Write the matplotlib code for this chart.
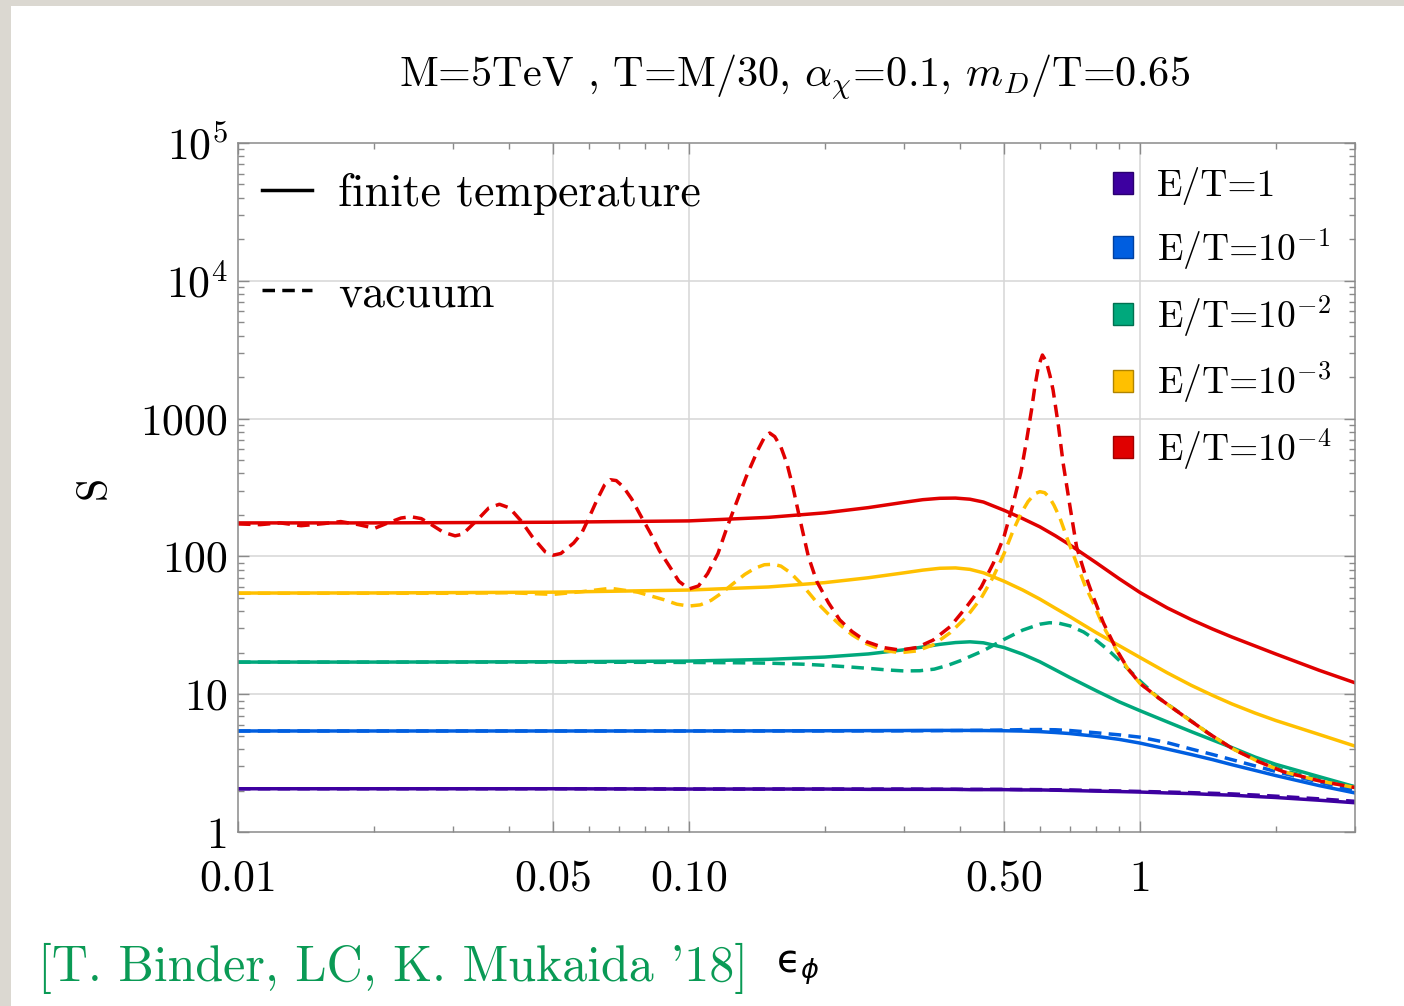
import matplotlib
matplotlib.use("Agg")
import matplotlib.pyplot as plt
from matplotlib.lines import Line2D
from matplotlib.patches import Patch, Rectangle
from matplotlib.ticker import FixedLocator, FixedFormatter, NullFormatter

plt.rcParams["font.family"] = "serif"
plt.rcParams["font.serif"] = ["cmr10"]
plt.rcParams["mathtext.fontset"] = "cm"
plt.rcParams["axes.unicode_minus"] = False
plt.rcParams["axes.formatter.use_mathtext"] = True

# ---- data ----
labels = ["E/T=1", "E/T=$10^{-1}$", "E/T=$10^{-2}$", "E/T=$10^{-3}$", "E/T=$10^{-4}$"]
colors = ["#3d00a0", "#005ee0", "#00a87c", "#ffc000", "#e00000"]
edge_colors = ["#2a0070", "#0040a0", "#007050", "#b08400", "#a00000"]

# finite temperature (solid)
x_ft = [0.01, 0.02, 0.05, 0.1, 0.15, 0.2, 0.25, 0.3, 0.33, 0.36, 0.39, 0.42, 0.45, 0.5,
        0.55, 0.6, 0.65, 0.7, 0.8, 0.9, 1.0, 1.15, 1.3, 1.45, 1.6, 1.8, 2.0, 2.5, 3.0]
ft_e0 = [2.06, 2.06, 2.06, 2.05, 2.05, 2.05, 2.04, 2.04, 2.04, 2.04, 2.04, 2.03, 2.03, 2.03,
         2.02, 2.02, 2.01, 2.0, 1.98, 1.965, 1.95, 1.92, 1.9, 1.87, 1.85, 1.81, 1.78, 1.70, 1.63]
ft_e1 = [5.41, 5.41, 5.41, 5.41, 5.42, 5.43, 5.44, 5.45, 5.46, 5.46, 5.46, 5.46, 5.45, 5.43,
         5.4, 5.35, 5.27, 5.18, 4.95, 4.7, 4.42, 4.0, 3.65, 3.35, 3.08, 2.8, 2.57, 2.17, 1.92]
ft_e2 = [17.1, 17.1, 17.2, 17.4, 17.9, 18.6, 19.6, 21.0, 22.0, 23.0, 23.7, 24.0, 23.6, 21.8,
         19.5, 17.2, 15.0, 13.2, 10.6, 8.8, 7.6, 6.3, 5.35, 4.65, 4.1, 3.5, 3.1, 2.52, 2.13]
ft_e3 = [54.2, 54.3, 55.0, 57.0, 60.0, 64.5, 70.0, 76.0, 79.5, 82.0, 82.5, 80.5, 76.0, 66.0,
         57.0, 49.0, 42.0, 36.5, 28.0, 22.5, 18.5, 14.3, 11.6, 9.8, 8.5, 7.3, 6.45, 5.1, 4.2]
ft_e4 = [175, 175, 177, 181, 192, 207, 226, 247, 258, 264, 265, 260, 248, 216,
         188, 164, 141, 121, 90, 68.8, 54.8, 42.3, 34.8, 29.7, 26.0, 22.4, 19.6, 14.9, 12.1]

# vacuum (dashed)
x_vac_smooth = [0.01, 0.05, 0.1, 0.2, 0.3, 0.4, 0.45, 0.5, 0.55, 0.6, 0.65, 0.7, 0.8, 0.9,
                1.0, 1.15, 1.3, 1.45, 1.6, 1.8, 2.0, 2.5, 3.0]
vac_e0 = [2.06, 2.06, 2.05, 2.05, 2.05, 2.04, 2.04, 2.04, 2.035, 2.03, 2.025, 2.02, 2.0, 1.985,
          1.97, 1.95, 1.93, 1.91, 1.89, 1.855, 1.82, 1.74, 1.67]
vac_e1 = [5.41, 5.41, 5.41, 5.41, 5.42, 5.45, 5.47, 5.5, 5.53, 5.54, 5.52, 5.45, 5.25, 5.07,
          4.88, 4.45, 4.0, 3.65, 3.35, 3.02, 2.75, 2.3, 2.0]

x_vac_e2 = [0.01, 0.05, 0.1, 0.13, 0.15, 0.18, 0.2, 0.225, 0.25, 0.275, 0.3, 0.325, 0.35,
            0.375, 0.4, 0.45, 0.5, 0.55, 0.6, 0.63, 0.66, 0.7, 0.75, 0.8, 0.85, 0.9, 0.95,
            1.0, 1.1, 1.25, 1.42, 1.6, 1.83, 2.08, 2.5, 3.0]
vac_e2 = [17.1, 17.1, 17.0, 16.9, 16.8, 16.5, 16.2, 15.8, 15.4, 15.0, 14.75, 14.8, 15.2,
          16.2, 17.5, 20.7, 25.0, 29.2, 32.2, 33.0, 32.8, 31.3, 28.3, 24.6, 21.0, 17.6, 14.8,
          12.5, 9.4, 7.0, 5.2, 4.05, 3.3, 2.8, 2.4, 2.12]

x_vac_e3 = [0.01, 0.02, 0.03, 0.04, 0.05, 0.058, 0.067, 0.077, 0.088, 0.094, 0.1, 0.106,
            0.112, 0.118, 0.125, 0.133, 0.14, 0.147, 0.154, 0.16, 0.168, 0.176, 0.184,
            0.192, 0.204, 0.216, 0.23, 0.248, 0.27, 0.294, 0.32, 0.348, 0.38, 0.413, 0.445,
            0.473, 0.5, 0.524, 0.545, 0.565, 0.585, 0.6, 0.615, 0.63, 0.645, 0.665, 0.69,
            0.724, 0.755, 0.788, 0.83, 0.888, 0.94, 1.0, 1.1, 1.247, 1.42, 1.61, 1.83, 2.08,
            2.5, 3.0]
vac_e3 = [54, 54, 54, 54.5, 53, 55.5, 58.7, 55, 48.5, 45, 43.6, 44.5,
          48, 54, 63, 74, 82, 87, 87.7, 85, 76, 65, 55,
          46.5, 38, 32, 27, 23.2, 20.8, 20.0, 20.6, 22.8, 28, 36.5, 50,
          71, 105, 155, 205, 250, 285, 295, 290, 268, 235, 190, 135,
          89, 62, 46, 31, 20.8, 15.3, 12.0, 9.4, 7.0, 5.2, 4.0, 3.25, 2.74,
          2.35, 2.1]

x_vac_e4 = [0.01, 0.0112, 0.0124, 0.0138, 0.0155, 0.0169, 0.0185, 0.0201, 0.0215, 0.023,
            0.0242, 0.0255, 0.027, 0.0285, 0.0303, 0.0315, 0.034, 0.036, 0.038, 0.04,
            0.0425, 0.045, 0.048, 0.05, 0.052, 0.0555, 0.0578, 0.06, 0.0625, 0.065, 0.067,
            0.069, 0.0715, 0.0746, 0.078, 0.0822, 0.086, 0.0907, 0.095, 0.1, 0.105, 0.11,
            0.116, 0.1216, 0.128, 0.134, 0.1422, 0.147, 0.151, 0.155, 0.16, 0.165, 0.17,
            0.176, 0.184, 0.192, 0.204, 0.216, 0.23, 0.248, 0.27, 0.294, 0.32, 0.348, 0.38,
            0.413, 0.445, 0.473, 0.5, 0.524, 0.545, 0.561, 0.575, 0.585, 0.596, 0.608,
            0.62, 0.632, 0.642, 0.66, 0.676, 0.7, 0.724, 0.755, 0.788, 0.83, 0.888, 0.94,
            1.0, 1.1, 1.247, 1.42, 1.61, 1.83, 2.08, 2.5, 3.0]
vac_e4 = [172, 170, 175, 167, 173, 179, 170, 160, 175, 190,
          194, 188, 168, 150, 141, 145, 185, 225, 239, 225,
          180, 138, 108, 102, 105, 125, 147, 190, 256, 330, 360,
          355, 320, 262, 200, 147, 110, 84, 66, 58, 61, 75,
          105, 164, 255, 379, 592, 730, 786, 740, 620, 470, 320,
          190, 100, 66, 46, 34.6, 28.5, 24.0, 21.8, 20.9, 21.8, 24.7, 31,
          43.2, 60, 89, 140, 243, 410, 700, 1150, 1706, 2400, 2893,
          2600, 2050, 1613, 880, 473, 230, 117, 75, 51, 33, 21, 15.4,
          12.0, 9.4, 7.0, 5.2, 4.0, 3.25, 2.74, 2.35, 2.1]

xmaj = [0.01, 0.05, 0.1, 0.5, 1]
xmaj_lab = ["0.01", "0.05", "0.10", "0.50", "1"]
xmin = [0.02, 0.03, 0.04, 0.06, 0.07, 0.08, 0.09, 0.2, 0.3, 0.4, 0.6, 0.7, 0.8, 0.9, 2, 3]
ymaj = [1, 10, 100, 1000, 1e4, 1e5]
ymaj_lab = ["1", "10", "100", "1000", "$10^4$", "$10^5$"]
ymin = [m * 10 ** k for k in range(5) for m in range(2, 10)]
xgrid = [0.05, 0.1, 0.5, 1]
ygrid = [10, 100, 1000, 1e4]

# ---- figure ----
fig = plt.figure(figsize=(14.04, 10.06), dpi=100)
fig.patch.set_facecolor("white")
fig.patches.append(Rectangle((0, 0), 11 / 1404, 1, transform=fig.transFigure,
                             facecolor="#dbd8d1", edgecolor="none", zorder=-10))
fig.patches.append(Rectangle((0, 1 - 6 / 1006), 1, 6 / 1006, transform=fig.transFigure,
                             facecolor="#dbd8d1", edgecolor="none", zorder=-10))

ax = fig.add_axes([238 / 1404, 1 - 832 / 1006, 1117 / 1404, 689 / 1006])
ax.set_xscale("log")
ax.set_yscale("log")
ax.set_xlim(0.01, 3.0)
ax.set_ylim(1, 1e5)

for v in xgrid:
    ax.axvline(v, color="#d6d6d6", lw=1.1, zorder=0)
for v in ygrid:
    ax.axhline(v, color="#d6d6d6", lw=1.1, zorder=0)

lw = 2.5
dash = (0, (3.6, 2.1))
ft_series = [ft_e0, ft_e1, ft_e2, ft_e3, ft_e4]
for ys, c in zip(ft_series, colors):
    ax.plot(x_ft, ys, color=c, lw=lw, solid_joinstyle="round")

vac_x = [x_vac_smooth, x_vac_smooth, x_vac_e2, x_vac_e3, x_vac_e4]
vac_y = [vac_e0, vac_e1, vac_e2, vac_e3, vac_e4]
for xs, ys, c in zip(vac_x, vac_y, colors):
    ax.plot(xs, ys, color=c, lw=lw, ls=dash)

ax.xaxis.set_major_locator(FixedLocator(xmaj))
ax.xaxis.set_major_formatter(FixedFormatter(xmaj_lab))
ax.xaxis.set_minor_locator(FixedLocator(xmin))
ax.xaxis.set_minor_formatter(NullFormatter())
ax.yaxis.set_major_locator(FixedLocator(ymaj))
ax.yaxis.set_major_formatter(FixedFormatter(ymaj_lab))
ax.yaxis.set_minor_locator(FixedLocator(ymin))
ax.yaxis.set_minor_formatter(NullFormatter())

for s in ax.spines.values():
    s.set_color("#8a8a8a")
    s.set_linewidth(1.1)
ax.tick_params(which="both", direction="in", top=True, right=True, color="#8a8a8a", width=1.0)
ax.tick_params(which="major", length=8)
ax.tick_params(which="minor", length=4.5)
ax.tick_params(axis="x", which="major", labelsize=31.5, pad=20)
ax.tick_params(axis="y", which="major", labelsize=31.5, pad=7)

ax.set_ylabel("S", fontsize=30, labelpad=19)

# legends
style_handles = [Line2D([], [], color="black", lw=2.5),
                 Line2D([], [], color="black", lw=2.5, ls=dash)]
leg1 = ax.legend(style_handles, ["finite temperature", "vacuum"], loc="upper left",
                 bbox_to_anchor=(0.0215, 0.956), frameon=False, fontsize=33,
                 handlelength=1.1, handletextpad=0.55, labelspacing=1.27,
                 borderpad=0, borderaxespad=0)
ax.add_artist(leg1)
color_handles = [Patch(facecolor=c, edgecolor=e, lw=1.0) for c, e in zip(colors, edge_colors)]
ax.legend(color_handles, labels, loc="upper right", bbox_to_anchor=(0.9785, 0.965),
          frameon=False, fontsize=27, handlelength=0.53, handleheight=0.53,
          handletextpad=0.62, labelspacing=0.56, borderpad=0, borderaxespad=0)

fig.text(795 / 1404, 1 - 77 / 1006,
         r"M=5TeV , T=M/30, $\alpha_\chi$=0.1, $m_D$/T=0.65",
         fontsize=30.5, ha="center", va="center")
fig.text(38 / 1404, 1 - 968 / 1006, "[T. Binder, LC, K. Mukaida '18]",
         fontsize=36, color="#0a9a55", ha="left", va="center")
fig.text(776 / 1404, 1 - 968 / 1006, "\u03f5$_\\phi$", fontsize=28,
         family="DejaVu Sans", math_fontfamily="dejavusans", ha="left", va="center")

fig.savefig("out.png", dpi=100)
